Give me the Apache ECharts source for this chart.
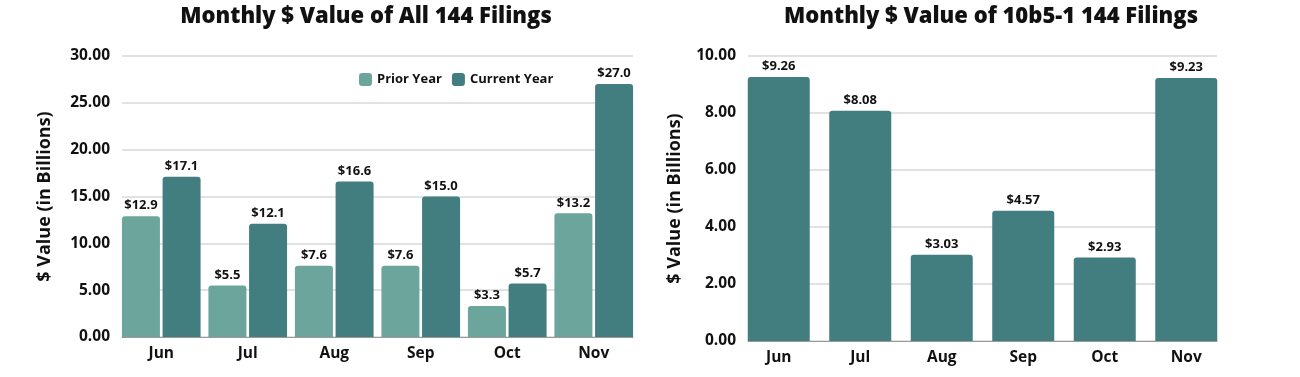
<!DOCTYPE html>
<html><head><meta charset="utf-8">
<script src="https://cdn.jsdelivr.net/npm/echarts@6/dist/echarts.min.js"></script>
<style>html,body{margin:0;padding:0;background:#fff;}#c{width:1300px;height:377px;}</style>
</head><body><div id="c"></div>
<script>
const months = ['Jun','Jul','Aug','Sep','Oct','Nov'];
const priorYear = [12.9, 5.5, 7.6, 7.6, 3.3, 13.2];
const currentYear = [17.1, 12.1, 16.6, 15.0, 5.7, 27.0];
const rule10b5 = [9.26, 8.08, 3.03, 4.57, 2.93, 9.23];
const titleLeft = 'Monthly $ Value of All 144 Filings';
const titleRight = 'Monthly $ Value of 10b5-1 144 Filings';
const yName = '$ Value (in Billions)';

const FONT = 'Open Sans';
const PRIOR = '#6BA59B', CURRENT = '#427D7F';
const chart = echarts.init(document.getElementById('c'));
const axisLabel = {fontFamily: FONT, fontWeight: 'bold', fontSize: 15.5, color: '#111'};
const dataLabel = (fmt) => ({show: true, position: 'top', distance: 4, fontFamily: FONT, fontWeight: 'bold', fontSize: 13, color: '#111', formatter: fmt});
const titleStyle = {fontFamily: FONT, fontWeight: 800, fontSize: 22, color: '#111'};
const nameStyle = {fontFamily: FONT, fontWeight: 'bold', fontSize: 18, color: '#111'};

chart.setOption({
  animation: false,
  title: [
    {text: titleLeft, left: 361, top: 1, textAlign: 'center', textStyle: titleStyle},
    {text: titleRight, left: 986, top: 1, textAlign: 'center', textStyle: titleStyle}
  ],
  legend: {
    data: ['Prior Year', 'Current Year'], left: 354, top: 68, itemWidth: 13, itemHeight: 13, itemGap: 10,
    textStyle: {fontFamily: FONT, fontWeight: 'bold', fontSize: 13, color: '#111'}
  },
  grid: [
    {left: 122, top: 56, width: 511, height: 281},
    {left: 118, top: 56, width: 519, height: 281},
    {left: 748, top: 56, width: 469, height: 285},
    {left: 738, top: 56, width: 489, height: 285}
  ],
  xAxis: [
    {gridIndex: 0, type: 'category', data: months, axisLine: {lineStyle: {color: '#999'}}, axisTick: {show: false}, axisLabel: {show: false}},
    {gridIndex: 1, type: 'category', data: months, axisLine: {show: false}, axisTick: {show: false}, axisLabel: Object.assign({margin: 9}, axisLabel)},
    {gridIndex: 2, type: 'category', data: months, axisLine: {lineStyle: {color: '#999'}}, axisTick: {show: false}, axisLabel: {show: false}},
    {gridIndex: 3, type: 'category', data: months, axisLine: {show: false}, axisTick: {show: false}, axisLabel: Object.assign({margin: 9}, axisLabel)}
  ],
  yAxis: [
    {gridIndex: 0, type: 'value', min: 0, max: 30, interval: 5, axisLabel: Object.assign({margin: 12, formatter: v => v.toFixed(2)}, axisLabel),
     splitLine: {lineStyle: {color: '#d9d9d9', width: 1.5}}, axisLine: {show: false}, axisTick: {show: false},
     name: yName, nameLocation: 'middle', nameGap: 68, nameTextStyle: nameStyle},
    {gridIndex: 1, type: 'value', min: 0, max: 30, interval: 5, show: false},
    {gridIndex: 2, type: 'value', min: 0, max: 10, interval: 2, axisLabel: Object.assign({margin: 12, formatter: v => v.toFixed(2)}, axisLabel),
     splitLine: {lineStyle: {color: '#d9d9d9', width: 1.5}}, axisLine: {show: false}, axisTick: {show: false},
     name: yName, nameLocation: 'middle', nameGap: 64, nameTextStyle: nameStyle},
    {gridIndex: 3, type: 'value', min: 0, max: 10, interval: 2, show: false}
  ],
  series: [
    {name: 'Prior Year', type: 'bar', xAxisIndex: 1, yAxisIndex: 1, data: priorYear, barWidth: 38, barGap: '7%',
     itemStyle: {color: PRIOR, borderRadius: [3,3,0,0]}, label: dataLabel(p => '$' + p.value.toFixed(1))},
    {name: 'Current Year', type: 'bar', xAxisIndex: 1, yAxisIndex: 1, data: currentYear, barWidth: 38, barGap: '7%',
     itemStyle: {color: CURRENT, borderRadius: [3,3,0,0]}, label: dataLabel(p => '$' + p.value.toFixed(1))},
    {name: '10b5-1', type: 'bar', xAxisIndex: 3, yAxisIndex: 3, data: rule10b5, barWidth: 62,
     itemStyle: {color: CURRENT, borderRadius: [3,3,0,0]}, label: dataLabel(p => '$' + p.value.toFixed(2))}
  ]
});
</script></body></html>
